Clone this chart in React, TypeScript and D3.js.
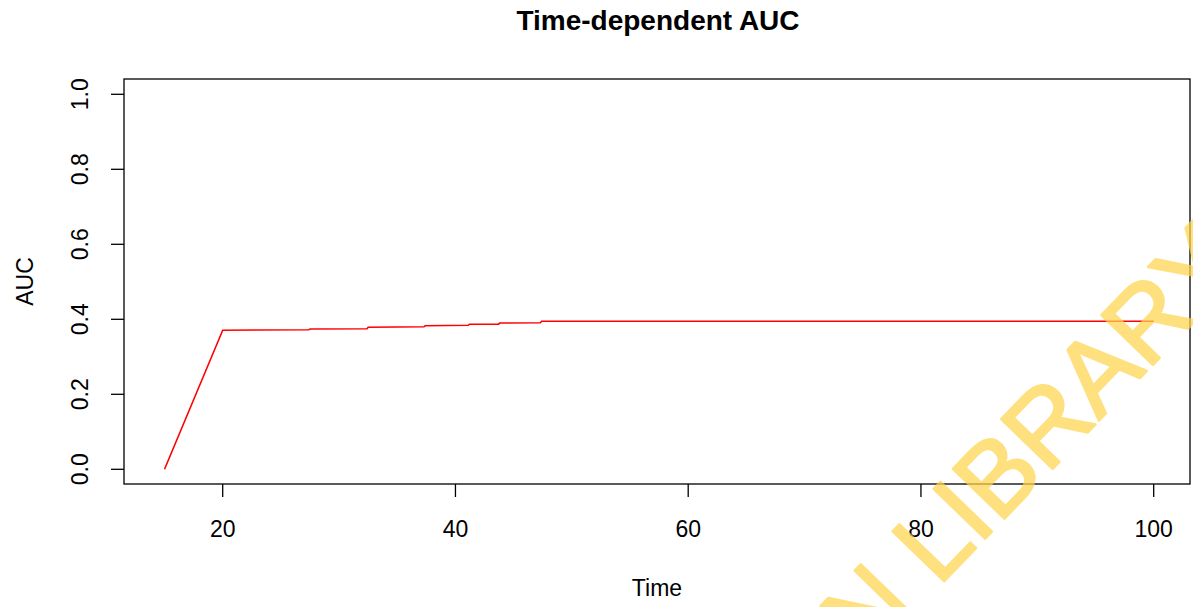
import React from 'react'
import * as d3 from 'd3'

// AUC, time in days (jumps are almost vertical)
const times = [15, 20, 27.4, 27.5, 32.4, 32.5, 37.3, 37.4, 41.1, 41.2, 43.7, 43.8, 47.3, 47.4, 100]
const aucValues = [0, 0.371, 0.372, 0.374, 0.375, 0.379, 0.380, 0.383, 0.384, 0.387, 0.387, 0.390, 0.391, 0.395, 0.395]

const xTicks = [20, 40, 60, 80, 100]
const yTicks = [0, 0.2, 0.4, 0.6, 0.8, 1.0]

const W = 1193
const H = 607
const font = '"Liberation Sans", Arial, sans-serif'

const App = () => {
    // plot box like base R: 4% padding around data range
    const box = { left: 124, top: 79, right: 1190, bottom: 484 }

    const x = d3.scaleLinear().domain([20, 100]).range([222.7, 1153.7])
    const y = d3.scaleLinear().domain([0, 1]).range([469.3, 94.3])

    const pts = times.map((t, i) => [t, aucValues[i]] as [number, number])
    const line = d3.line<[number, number]>()
        .x(d => x(d[0]))
        .y(d => y(d[1]))

    // watermark, drawn on top like in the scan
    const ang = -46
    const wmX = 866
    const wmY = 662

    return (
        <svg width={W} height={H} style={{ position: 'absolute', left: 0, top: 0, background: '#fff' }}>
            <rect x={0} y={0} width={W} height={H} fill="#fff" />
            <text x={658} y={30} textAnchor="middle" fontFamily={font} fontWeight="bold" fontSize={28} fill="#000">
                Time-dependent AUC
            </text>

            <rect x={box.left} y={box.top} width={box.right - box.left} height={box.bottom - box.top}
                fill="none" stroke="#000" strokeWidth={1.3} />

            {xTicks.map(t => (
                <g key={'x' + t}>
                    <line x1={x(t)} x2={x(t)} y1={box.bottom} y2={box.bottom + 13} stroke="#000" strokeWidth={1.3} />
                    <text x={x(t)} y={537} textAnchor="middle" fontFamily={font} fontSize={23} fill="#000">
                        {t}
                    </text>
                </g>
            ))}

            {yTicks.map(v => (
                <g key={'y' + v}>
                    <line x1={box.left - 13} x2={box.left} y1={y(v)} y2={y(v)} stroke="#000" strokeWidth={1.3} />
                    <text transform={`translate(88,${y(v)}) rotate(-90)`} textAnchor="middle" fontFamily={font} fontSize={23} fill="#000">
                        {d3.format('.1f')(v)}
                    </text>
                </g>
            ))}

            <text x={657} y={596} textAnchor="middle" fontFamily={font} fontSize={23} fill="#000">Time</text>
            <text transform={`translate(33,${(box.top + box.bottom) / 2}) rotate(-90)`} textAnchor="middle"
                fontFamily={font} fontSize={23} fill="#000">AUC</text>

            <path d={line(pts) || ''} fill="none" stroke="#ff0000" strokeWidth={1.6} />

            <g opacity={0.72}>
                <text transform={`translate(${wmX},${wmY}) rotate(${ang})`} fontFamily={font} fontSize={104}
                    fill="#FFD54F" stroke="#FFD54F" strokeWidth={2.5} strokeLinejoin="round">
                    N LIBRARY
                </text>
            </g>
        </svg>
    )
}

export default App
